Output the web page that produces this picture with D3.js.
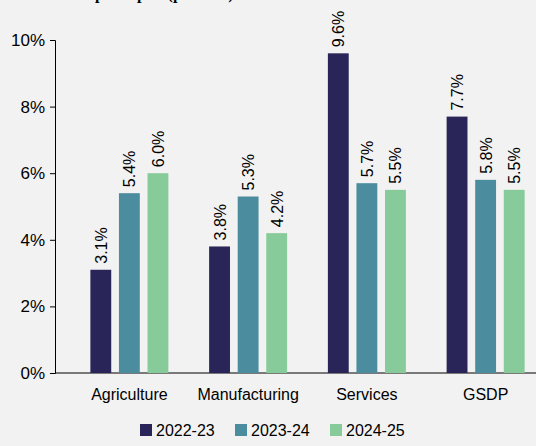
<!DOCTYPE html><html><head><script src="https://d3js.org/d3.v7.min.js"></script>
<style>body{margin:0;background:#f2f2f2}</style></head><body><script>
const categories=["Agriculture","Manufacturing","Services","GSDP"];
const series=["2022-23","2023-24","2024-25"];
const values=[[3.1,5.4,6.0],[3.8,5.3,4.2],[9.6,5.7,5.5],[7.7,5.8,5.5]];
const yTicks=[0,2,4,6,8,10];
const colors=["#2a2558","#4b8c9e","#87cb9a"];
const W=536,H=446;
const svg=d3.select("body").append("svg").attr("width",W).attr("height",H).style("font-family","Liberation Sans, Arial");
svg.append("text").attr("x",95).attr("y",-1).attr("font-family","Liberation Serif").attr("font-weight","bold").attr("font-size",16).text("per capita (per cent)");
const y=d3.scaleLinear().domain([0,10]).range([373,40]);
const x=d3.scaleBand().domain(categories).range([70,545]);
const x1=d3.scaleBand().domain(series).range([-39,39]).paddingInner(0.27);
const ax=svg.append("g").attr("transform","translate(55,0)").call(d3.axisLeft(y).tickValues(yTicks).tickFormat(d=>d+"%").tickSize(5));
ax.selectAll("text").attr("font-size",17).attr("fill","#000").attr("dx",-2);
ax.selectAll("line,path").attr("stroke","#000");
svg.append("line").attr("x1",55).attr("x2",536).attr("y1",373).attr("y2",373).attr("stroke","#000");
categories.forEach((c,i)=>{
 const cx=x(c)+x.bandwidth()/2;
 series.forEach((s,j)=>{
  const v=values[i][j];
  svg.append("rect").attr("x",cx+x1(s)).attr("width",x1.bandwidth()).attr("y",y(v)).attr("height",y(0)-y(v)).attr("fill",colors[j]);
  const tx=cx+x1(s)+x1.bandwidth()/2+6;
  svg.append("text").attr("transform",`translate(${tx},${y(v)-6}) rotate(-90)`).attr("font-size",16).text(v.toFixed(1)+"%");
 });
 svg.append("text").attr("x",cx).attr("y",400).attr("text-anchor","middle").attr("font-size",16).text(c);
});
const lg=svg.append("g").attr("transform","translate(140,436)");
series.forEach((s,j)=>{
 const g=lg.append("g").attr("transform",`translate(${j*95},0)`);
 g.append("rect").attr("x",0).attr("y",-12).attr("width",12).attr("height",12).attr("fill",colors[j]);
 g.append("text").attr("x",16).attr("y",0).attr("font-size",16).text(s);
});
</script></body></html>
